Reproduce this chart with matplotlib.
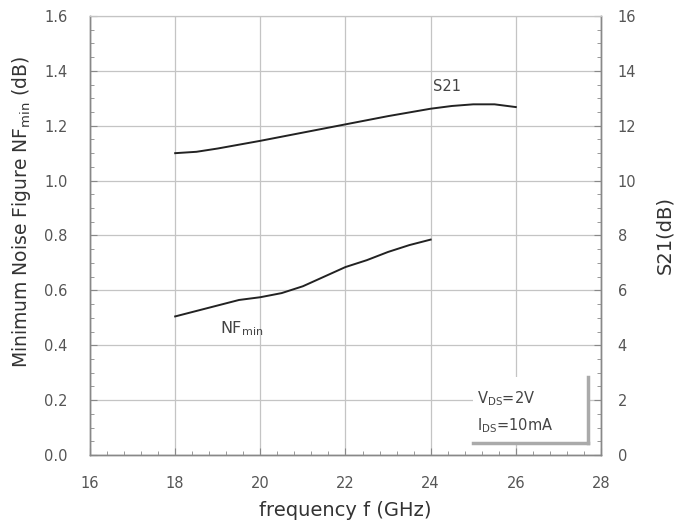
import matplotlib.pyplot as plt
from matplotlib.patches import Rectangle
from matplotlib.lines import Line2D
from matplotlib.ticker import MultipleLocator

plt.rcParams['font.family'] = 'DejaVu Sans'

# S21 gain vs frequency (right axis, dB)
freq_s21 = [18, 18.5, 19, 20, 21, 22, 23, 24, 24.5, 25, 25.5, 26]
s21_db = [11.0, 11.05, 11.17, 11.45, 11.75, 12.05, 12.35, 12.62, 12.72, 12.78, 12.78, 12.68]

# Minimum noise figure vs frequency (left axis, dB)
freq_nf = [18, 18.5, 19, 19.5, 20, 20.5, 21, 21.5, 22, 22.5, 23, 23.5, 24]
nf_db = [0.505, 0.525, 0.545, 0.565, 0.575, 0.59, 0.615, 0.65, 0.685, 0.71, 0.74, 0.765, 0.785]

tick_col = '#555555'
spine_col = '#888888'
grid_col = '#c4c4c4'
label_col = '#333333'

fig = plt.figure(figsize=(6.84, 5.29), dpi=100)
ax = fig.add_axes([0.1316, 0.1399, 0.747, 0.8299])
ax2 = ax.twinx()

ax.set_xlim(16, 28)
ax.set_ylim(0, 1.6)
ax2.set_ylim(0, 16)

ax.xaxis.set_major_locator(MultipleLocator(2))
ax.xaxis.set_minor_locator(MultipleLocator(0.4))
ax.yaxis.set_major_locator(MultipleLocator(0.2))
ax.yaxis.set_minor_locator(MultipleLocator(0.05))
ax2.yaxis.set_major_locator(MultipleLocator(2))
ax2.yaxis.set_minor_locator(MultipleLocator(0.5))

ax.yaxis.set_major_formatter(plt.FormatStrFormatter('%.1f'))

ax.grid(True, which='major', color=grid_col, linewidth=0.9)
ax.set_axisbelow(True)

ax.tick_params(axis='both', which='both', direction='in', colors=spine_col,
               labelcolor=tick_col, labelsize=10.5, top=False, right=False)
ax.tick_params(axis='both', which='major', length=5)
ax.tick_params(axis='both', which='minor', length=3)
ax.tick_params(axis='x', which='major', pad=15)
ax.tick_params(axis='y', which='major', pad=16)
ax2.tick_params(axis='y', which='both', direction='in', colors=spine_col,
                labelcolor=tick_col, labelsize=10.5)
ax2.tick_params(axis='y', which='major', length=5, pad=12)
ax2.tick_params(axis='y', which='minor', length=3)

for a in (ax, ax2):
    for side in ['left', 'bottom', 'right']:
        a.spines[side].set_color(spine_col)
        a.spines[side].set_linewidth(1.0)
    a.spines['top'].set_color(grid_col)

ax.plot(freq_nf, nf_db, color='#222222', linewidth=1.4)
ax2.plot(freq_s21, s21_db, color='#222222', linewidth=1.4)

ax.set_xlabel('frequency f (GHz)', fontsize=14, color=label_col, labelpad=7)
ax.set_ylabel('Minimum Noise Figure NF$_{\\mathrm{min}}$ (dB)', fontsize=13.5,
              color=label_col)
ax.yaxis.set_label_coords(-0.112, 0.553)
ax2.set_ylabel('S21(dB)', fontsize=14, color=label_col, labelpad=14)

ax.text(19.05, 0.445, 'NF$_{\\mathrm{min}}$', fontsize=11.5, color='#444444')
ax.text(24.05, 1.325, 'S21', fontsize=10.5, color='#444444')

# condition box with shadow
box = Rectangle((0.750, 0.027), 0.225, 0.151, transform=ax.transAxes,
                facecolor='white', edgecolor='none', zorder=3)
ax.add_patch(box)
ax.add_line(Line2D([0.975, 0.975], [0.027, 0.178], transform=ax.transAxes,
                   color='#aaaaaa', linewidth=2.5, zorder=4))
ax.add_line(Line2D([0.750, 0.975], [0.027, 0.027], transform=ax.transAxes,
                   color='#aaaaaa', linewidth=2.5, zorder=4))
ax.text(0.757, 0.128, 'V$_{\\mathrm{DS}}$=2V', transform=ax.transAxes,
        fontsize=10.5, color='#444444', va='center', zorder=5)
ax.text(0.757, 0.067, 'I$_{\\mathrm{DS}}$=10mA', transform=ax.transAxes,
        fontsize=10.5, color='#444444', va='center', zorder=5)

fig.savefig('out.png', dpi=100, facecolor='white')
